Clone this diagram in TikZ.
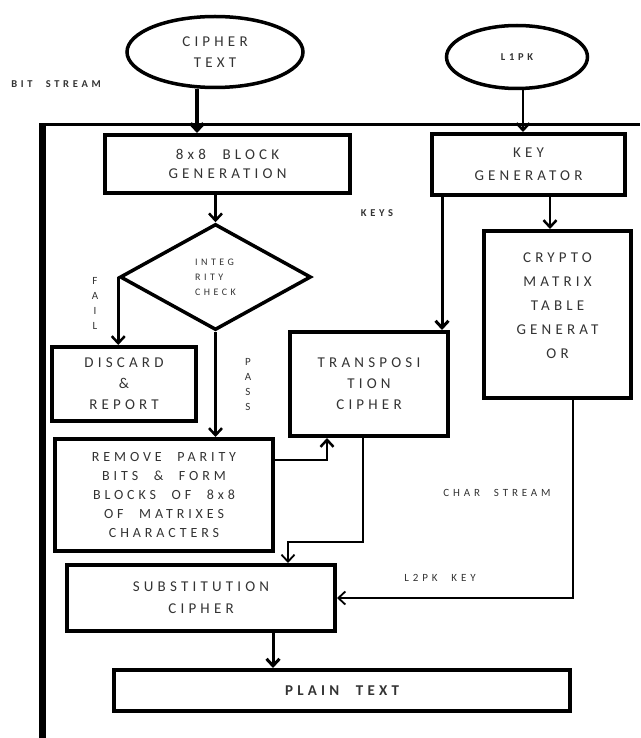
\documentclass[tikz,border=0pt]{standalone}
\usepackage{fontspec}
\setmainfont{Carlito}[LetterSpace=35, WordSpace=2.2]
\usepackage{tikz}
\usetikzlibrary{shapes.geometric, arrows.meta}
\newcommand{\boxtext}[2]{\fontsize{#1}{#2}\selectfont\addfontfeature{LetterSpace=28}}
\tikzstyle{terminal} = [ellipse, line width=3.5pt, draw=black, text=black!80, align=center, inner sep=0pt, font=\boxtext{15}{21}]
\tikzstyle{process} = [rectangle, line width=4pt, draw=black, text=black!80, align=center, inner sep=0pt, font=\boxtext{15}{20}]
\tikzstyle{decision} = [diamond, line width=3.5pt, draw=black, text=black!80, align=left, inner sep=0pt, font=\fontsize{10}{15}\selectfont]
\tikzstyle{tag} = [align=center, text=black!80, inner sep=0pt, font=\fontsize{11}{15}\selectfont]
\tikzstyle{arrow} = [line width=2.5pt, -{Straight Barb[length=7pt,width=13pt]}]
\tikzstyle{thinarrow} = [line width=1.8pt, -{Straight Barb[length=7pt,width=13pt]}]

\begin{document}
\begin{tikzpicture}[x=1pt, y=-1pt]
        \useasboundingbox (0,0) rectangle (640,738);

        \node (cipher) [terminal, minimum width=176pt, minimum height=71pt] at (215,52) {CIPHER\\TEXT};
        \node (l1pk) [terminal, minimum width=141pt, minimum height=63pt, font=\fontsize{10.5}{15}\selectfont\bfseries] at (517,57) {L1PK};
        \node (blockgen) [process, minimum width=245pt, minimum height=58pt, font=\boxtext{15}{19}] at (227.5,164) {8x8 BLOCK\\GENERATION};
        \node (keygen) [process, minimum width=193pt, minimum height=61pt, font=\boxtext{15}{23}] at (528.5,164.5) {KEY\\GENERATOR};
        \node (check) [decision, minimum width=191pt, minimum height=106pt] at (215.5,277) {INTEG\\RITY\\CHECK};
        \node (discard) [process, minimum width=144pt, minimum height=74pt, font=\boxtext{15}{21}] at (124,384) {DISCARD\\\&\\REPORT};
        \node (remove) [process, minimum width=218pt, minimum height=112pt, font=\boxtext{14}{19}] at (164,495) {REMOVE PARITY\\BITS \& FORM\\BLOCKS OF 8x8\\OF MATRIXES\\CHARACTERS};
        \node (transp) [process, minimum width=158pt, minimum height=104pt, font=\boxtext{15}{21}] at (369,384) {TRANSPOSI\\TION\\CIPHER};
        \node (crypto) [process, minimum width=147pt, minimum height=167pt, font=\boxtext{15}{24}] at (557.5,314.5) {CRYPTO\\MATRIX\\TABLE\\GENERAT\\OR\\[-7pt]\mbox{}};
        \node (subst) [process, minimum width=268pt, minimum height=66pt, font=\boxtext{15}{22}] at (201,598) {SUBSTITUTION\\CIPHER};
        \node (plain) [process, minimum width=456pt, minimum height=41pt, font=\boxtext{15}{20}\bfseries] at (342,690.5) {PLAIN TEXT};

        \node (bitstream) [tag, font=\fontsize{10.5}{15}\selectfont\bfseries] at (56,84) {BIT STREAM};
        \node (keys) [tag, font=\fontsize{10.5}{15}\selectfont\bfseries] at (377,213) {KEYS};
        \node (fail) [tag] at (95,303) {F\\A\\I\\L};
        \node (pass) [tag] at (248,385) {P\\A\\S\\S};
        \node (charstream) [tag] at (497,493) {CHAR STREAM};
        \node (l2pkkey) [tag] at (440,578) {L2PK KEY};

        \draw [line width=3pt] (42,125) -- (640,125);
        \draw [line width=7pt] (42,123.5) -- (42,738);

        \coordinate (tbend) at (288,542);

        \draw [arrow, line width=3.5pt] ([xshift=-30.5pt]blockgen.north |- cipher.south) -- ([xshift=-30.5pt]blockgen.north);
        \draw [arrow] ([xshift=-5.5pt]keygen.north |- l1pk.south) -- ([xshift=-5.5pt]keygen.north);
        \draw [arrow] (check.north |- blockgen.south) -- (check.north);
        \draw [arrow] (check.west) -- (check.west |- discard.north);
        \draw [arrow] (check.south) -- (check.south |- remove.north);
        \draw [arrow, line width=3pt] ([xshift=-8pt]transp.north east |- keygen.south) -- ([xshift=-8pt]transp.north east);
        \draw [arrow] ([xshift=-7.5pt]crypto.north |- keygen.south) -- ([xshift=-7.5pt]crypto.north);
        \draw [arrow] ([yshift=-23pt]remove.north east) -| ([xshift=39pt]transp.south west);
        \draw [thinarrow] ([xshift=-6pt]transp.south) |- (tbend) -- (tbend |- subst.north);
        \draw [thinarrow] ([xshift=15.5pt]crypto.south) |- (subst.east);
        \draw [arrow, line width=3pt] ([xshift=72pt]subst.south) -- ([xshift=72pt]subst.south |- plain.north);
\end{tikzpicture}
\end{document}
